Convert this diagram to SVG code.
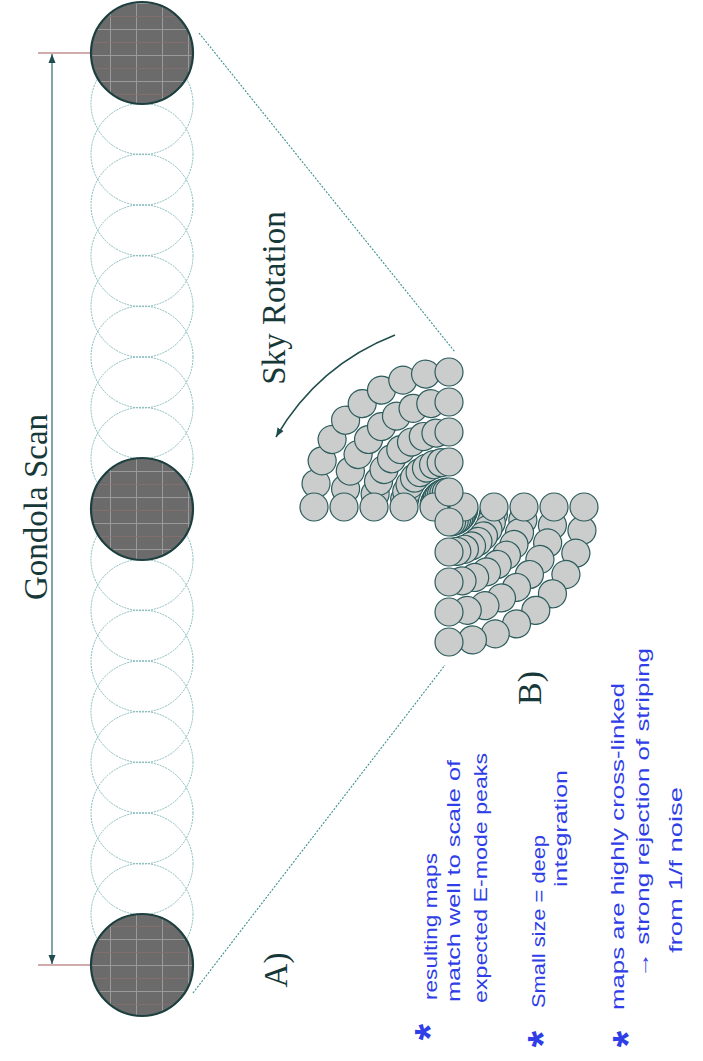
<svg xmlns="http://www.w3.org/2000/svg" xmlns:xlink="http://www.w3.org/1999/xlink" width="703" height="1061" viewBox="0 0 703 1061">
<style>
.bg{fill:#ffffff}
.light{fill:none;stroke:#86bcbc;stroke-width:1;stroke-dasharray:2 1}
.dark{fill:url(#grid);stroke:#1d3f3f;stroke-width:2.2}
.beam{fill:#cbcdcd;stroke:#2c5c5c;stroke-width:1.2}
.print{font-family:"Liberation Serif","Times New Roman",serif;fill:#173838}
.hand{font-family:"Liberation Sans",Arial,sans-serif;fill:#2f3ee6;font-size:19px}
.star{font-family:"Liberation Sans",Arial,sans-serif;fill:#2f3ee6;font-size:42px;font-weight:bold}
.dotted{fill:none;stroke:#3f8f8f;stroke-width:1.1;stroke-dasharray:2 1.5}
.dim{fill:none;stroke:#2d6e6e;stroke-width:1.2}
.tick{fill:none;stroke:#a65a5a;stroke-width:1.2}
.arc{fill:none;stroke:#1f4c4c;stroke-width:1.5}
</style>
<defs>
<pattern id="grid" patternUnits="userSpaceOnUse" width="26" height="26" x="6" y="3">
<rect width="26" height="26" fill="#6b6b6b"/>
<path d="M0,0.5H26M0.5,0V26" stroke="#9a9a9a" stroke-width="1"/>
<path d="M0,13.5H26" stroke="#876f6f" stroke-width="0.8"/>
</pattern>
<marker id="ah" markerUnits="userSpaceOnUse" markerWidth="10" markerHeight="8" refX="9" refY="4" orient="auto-start-reverse">
<path d="M0,0.5 L9,4 L0,7.5 z" fill="#1f4c4c"/>
</marker>
<g id="scanline">
<circle class="beam" cx="314" cy="507" r="14"/>
<circle class="beam" cx="344" cy="507" r="14"/>
<circle class="beam" cx="374" cy="507" r="14"/>
<circle class="beam" cx="404" cy="507" r="14"/>
<circle class="beam" cx="434" cy="507" r="14"/>
<circle class="beam" cx="464" cy="507" r="14"/>
<circle class="beam" cx="494" cy="507" r="14"/>
<circle class="beam" cx="524" cy="507" r="14"/>
<circle class="beam" cx="554" cy="507" r="14"/>
<circle class="beam" cx="584" cy="507" r="14"/>
</g>
</defs>
<rect class="bg" width="703" height="1061"/>

<g id="connectors">
<line class="tick" x1="38" y1="53" x2="90" y2="53"/>
<line class="tick" x1="38" y1="965" x2="90" y2="965"/>
<line class="dim" x1="52" y1="54" x2="52" y2="964" marker-start="url(#ah)" marker-end="url(#ah)"/>
<line class="dotted" x1="199" y1="33" x2="455" y2="352"/>
<line class="dotted" x1="193" y1="993" x2="445" y2="665"/>
<path class="arc" d="M395,335 Q318,365 276,437" marker-end="url(#ah)"/>
</g>

<g id="gondola-scan">
<circle class="light" cx="142" cy="103.67" r="51"/>
<circle class="light" cx="142" cy="154.33" r="51"/>
<circle class="light" cx="142" cy="205" r="51"/>
<circle class="light" cx="142" cy="255.67" r="51"/>
<circle class="light" cx="142" cy="306.33" r="51"/>
<circle class="light" cx="142" cy="357" r="51"/>
<circle class="light" cx="142" cy="407.67" r="51"/>
<circle class="light" cx="142" cy="458.33" r="51"/>
<circle class="light" cx="142" cy="559.67" r="51"/>
<circle class="light" cx="142" cy="610.33" r="51"/>
<circle class="light" cx="142" cy="661" r="51"/>
<circle class="light" cx="142" cy="711.67" r="51"/>
<circle class="light" cx="142" cy="762.33" r="51"/>
<circle class="light" cx="142" cy="813" r="51"/>
<circle class="light" cx="142" cy="863.67" r="51"/>
<circle class="light" cx="142" cy="914.33" r="51"/>
<circle class="dark" cx="142" cy="53" r="51"/>
<circle class="dark" cx="142" cy="509" r="51"/>
<circle class="dark" cx="142" cy="965" r="51"/>
</g>

<g id="sky-rotation-pattern">
<use xlink:href="#scanline" href="#scanline" transform="rotate(10 449 507)"/>
<use xlink:href="#scanline" href="#scanline" transform="rotate(20 449 507)"/>
<use xlink:href="#scanline" href="#scanline" transform="rotate(30 449 507)"/>
<use xlink:href="#scanline" href="#scanline" transform="rotate(40 449 507)"/>
<use xlink:href="#scanline" href="#scanline" transform="rotate(50 449 507)"/>
<use xlink:href="#scanline" href="#scanline" transform="rotate(60 449 507)"/>
<use xlink:href="#scanline" href="#scanline" transform="rotate(70 449 507)"/>
<use xlink:href="#scanline" href="#scanline" transform="rotate(80 449 507)"/>
<use xlink:href="#scanline" href="#scanline"/>
<use xlink:href="#scanline" href="#scanline" transform="rotate(90 449 507)"/>
</g>

<g id="labels">
<text class="print" font-size="33" text-anchor="middle" transform="translate(47,507) rotate(-90)">Gondola Scan</text>
<text class="print" font-size="33" text-anchor="middle" transform="translate(285,298) rotate(-90)">Sky Rotation</text>
<text class="print" font-size="33" text-anchor="middle" transform="translate(287,970) rotate(-90)">A)</text>
<text class="print" font-size="34" text-anchor="middle" transform="translate(541,688) rotate(-90)">B)</text>
</g>

<g id="notes">
<text class="star" text-anchor="middle" transform="translate(444,1032) rotate(-90)">*</text>
<text class="hand" transform="translate(437,1000) rotate(-90)" textLength="147" lengthAdjust="spacingAndGlyphs">resulting maps</text>
<text class="hand" transform="translate(460,1002) rotate(-90)" textLength="242" lengthAdjust="spacingAndGlyphs">match well to scale of</text>
<text class="hand" transform="translate(487,1003) rotate(-90)" textLength="250" lengthAdjust="spacingAndGlyphs">expected E-mode peaks</text>
<text class="star" text-anchor="middle" transform="translate(557,1039) rotate(-90)">*</text>
<text class="hand" transform="translate(545,1008) rotate(-90)" textLength="173" lengthAdjust="spacingAndGlyphs">Small size = deep</text>
<text class="hand" transform="translate(567,887) rotate(-90)" textLength="117" lengthAdjust="spacingAndGlyphs">integration</text>
<text class="star" text-anchor="middle" transform="translate(642,1039) rotate(-90)">*</text>
<text class="hand" transform="translate(624,1010) rotate(-90)" textLength="327" lengthAdjust="spacingAndGlyphs">maps are highly cross-linked</text>
<text class="hand" transform="translate(649,978) rotate(-90)" textLength="330" lengthAdjust="spacingAndGlyphs">→ strong rejection of striping</text>
<text class="hand" transform="translate(682,953) rotate(-90)" textLength="166" lengthAdjust="spacingAndGlyphs">from 1/f noise</text>
</g>
</svg>
